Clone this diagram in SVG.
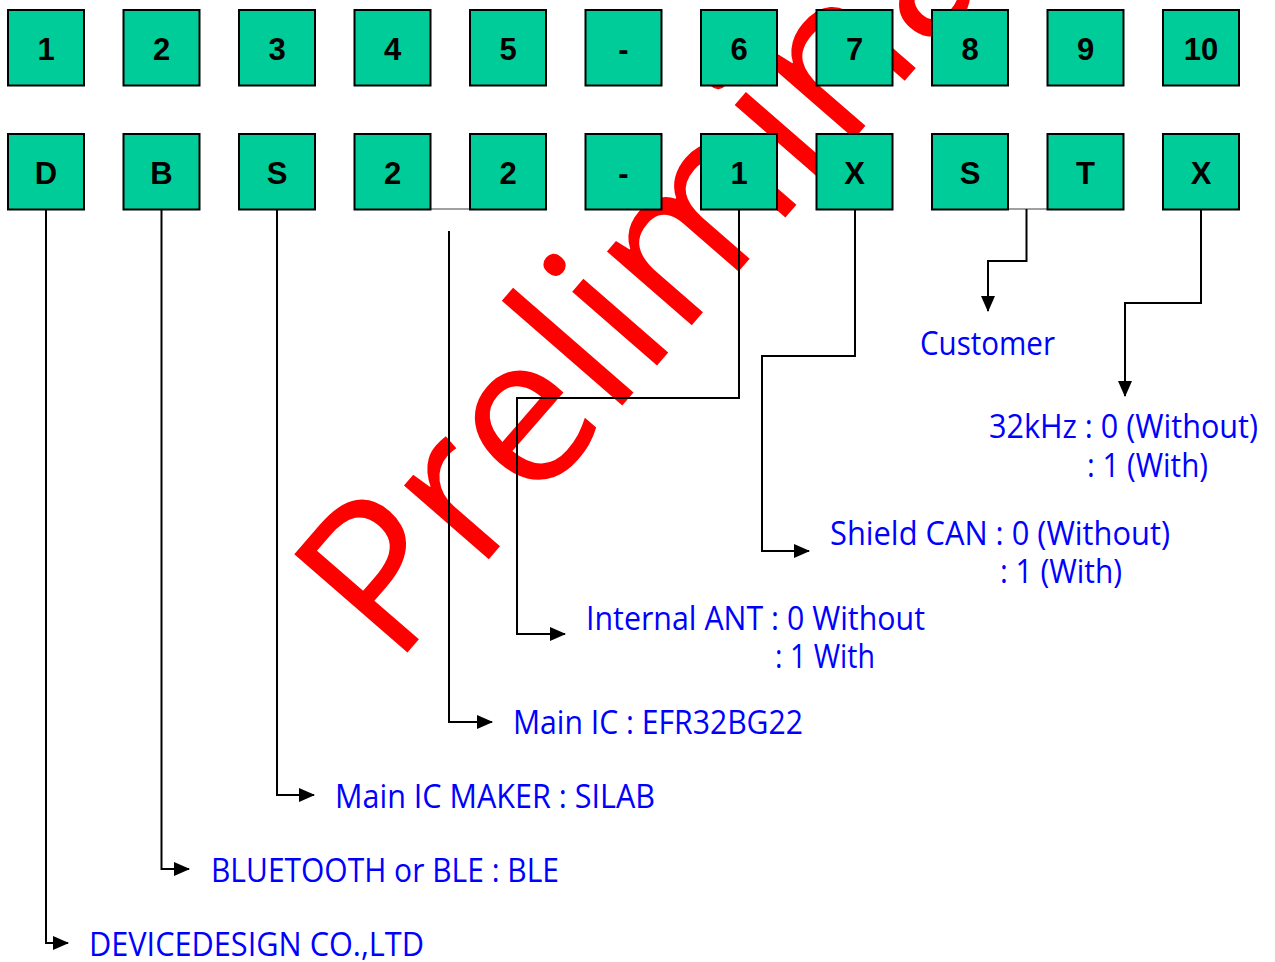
<svg xmlns="http://www.w3.org/2000/svg" width="1275" height="962" viewBox="0 0 1275 962">
<style>
.box{fill:#00CC99;stroke:#000;stroke-width:2}
.bt{font-family:"Liberation Sans",Arial,sans-serif;font-weight:bold;font-size:31px;fill:#000;text-anchor:middle}
.ln{fill:none;stroke:#000;stroke-width:2}
.gl{fill:none;stroke:#808080;stroke-width:1.5}
.lb{font-family:"Open Sans","Noto Sans",sans-serif;font-size:32px;fill:#0000FF}
.wm{font-family:"Open Sans","Noto Sans",sans-serif;font-size:210px;fill:#FF0000}
</style>
<defs>
<marker id="ah" markerWidth="16" markerHeight="14" refX="15" refY="7" orient="auto" markerUnits="userSpaceOnUse">
<path d="M0,0 L16,7 L0,14 Z" fill="#000"/>
</marker>
</defs>
<rect width="1275" height="962" fill="#fff"/>
<text class="wm" x="394" y="668" transform="rotate(-49 394 668)">Preliminary</text>
<g id="connectors">
<line class="gl" x1="430" y1="209" x2="470" y2="209"/>
<line class="gl" x1="1008" y1="209" x2="1048" y2="209"/>
<polyline class="ln" points="46,210 46,943 68,943" marker-end="url(#ah)"/>
<polyline class="ln" points="161.5,210 161.5,869 189,869" marker-end="url(#ah)"/>
<polyline class="ln" points="277,210 277,795 314,795" marker-end="url(#ah)"/>
<polyline class="ln" points="449,231 449,722 492,722" marker-end="url(#ah)"/>
<polyline class="ln" points="739,210 739,398 517,398 517,634 565,634" marker-end="url(#ah)"/>
<polyline class="ln" points="855,210 855,356 762,356 762,551 809,551" marker-end="url(#ah)"/>
<polyline class="ln" points="1026.5,209 1026.5,261 988,261 988,311" marker-end="url(#ah)"/>
<polyline class="ln" points="1201,210 1201,303 1125,303 1125,396" marker-end="url(#ah)"/>
</g>
<g id="n1"><rect class="box" x="8" y="10" width="76" height="75.5"/><text class="bt" x="46" y="60">1</text></g>
<g id="n2"><rect class="box" x="123.5" y="10" width="76" height="75.5"/><text class="bt" x="161.5" y="60">2</text></g>
<g id="n3"><rect class="box" x="239" y="10" width="76" height="75.5"/><text class="bt" x="277" y="60">3</text></g>
<g id="n4"><rect class="box" x="354.5" y="10" width="76" height="75.5"/><text class="bt" x="392.5" y="60">4</text></g>
<g id="n5"><rect class="box" x="470" y="10" width="76" height="75.5"/><text class="bt" x="508" y="60">5</text></g>
<g id="ndash1"><rect class="box" x="585.5" y="10" width="76" height="75.5"/><text class="bt" x="623.5" y="60">-</text></g>
<g id="n6"><rect class="box" x="701" y="10" width="76" height="75.5"/><text class="bt" x="739" y="60">6</text></g>
<g id="n7"><rect class="box" x="816.5" y="10" width="76" height="75.5"/><text class="bt" x="854.5" y="60">7</text></g>
<g id="n8"><rect class="box" x="932" y="10" width="76" height="75.5"/><text class="bt" x="970" y="60">8</text></g>
<g id="n9"><rect class="box" x="1047.5" y="10" width="76" height="75.5"/><text class="bt" x="1085.5" y="60">9</text></g>
<g id="n10"><rect class="box" x="1163" y="10" width="76" height="75.5"/><text class="bt" x="1201" y="60">10</text></g>
<g id="cD"><rect class="box" x="8" y="134" width="76" height="75.5"/><text class="bt" x="46" y="184">D</text></g>
<g id="cB"><rect class="box" x="123.5" y="134" width="76" height="75.5"/><text class="bt" x="161.5" y="184">B</text></g>
<g id="cS"><rect class="box" x="239" y="134" width="76" height="75.5"/><text class="bt" x="277" y="184">S</text></g>
<g id="c2a"><rect class="box" x="354.5" y="134" width="76" height="75.5"/><text class="bt" x="392.5" y="184">2</text></g>
<g id="c2b"><rect class="box" x="470" y="134" width="76" height="75.5"/><text class="bt" x="508" y="184">2</text></g>
<g id="cdash"><rect class="box" x="585.5" y="134" width="76" height="75.5"/><text class="bt" x="623.5" y="184">-</text></g>
<g id="c1"><rect class="box" x="701" y="134" width="76" height="75.5"/><text class="bt" x="739" y="184">1</text></g>
<g id="cX1"><rect class="box" x="816.5" y="134" width="76" height="75.5"/><text class="bt" x="854.5" y="184">X</text></g>
<g id="cS2"><rect class="box" x="932" y="134" width="76" height="75.5"/><text class="bt" x="970" y="184">S</text></g>
<g id="cT"><rect class="box" x="1047.5" y="134" width="76" height="75.5"/><text class="bt" x="1085.5" y="184">T</text></g>
<g id="cX2"><rect class="box" x="1163" y="134" width="76" height="75.5"/><text class="bt" x="1201" y="184">X</text></g>
<g id="labels">
<text class="lb" x="920" y="355" textLength="135" lengthAdjust="spacingAndGlyphs">Customer</text>
<text class="lb" x="989" y="438" textLength="269" lengthAdjust="spacingAndGlyphs">32kHz : 0 (Without)</text>
<text class="lb" x="1087" y="477" textLength="121" lengthAdjust="spacingAndGlyphs">: 1 (With)</text>
<text class="lb" x="830" y="545" textLength="340" lengthAdjust="spacingAndGlyphs">Shield CAN : 0 (Without)</text>
<text class="lb" x="1000" y="583" textLength="122" lengthAdjust="spacingAndGlyphs">: 1 (With)</text>
<text class="lb" x="586" y="630" textLength="339" lengthAdjust="spacingAndGlyphs">Internal ANT : 0 Without</text>
<text class="lb" x="775" y="668" textLength="100" lengthAdjust="spacingAndGlyphs">: 1 With</text>
<text class="lb" x="513" y="734" textLength="290" lengthAdjust="spacingAndGlyphs">Main IC : EFR32BG22</text>
<text class="lb" x="335" y="808" textLength="320" lengthAdjust="spacingAndGlyphs">Main IC MAKER : SILAB</text>
<text class="lb" x="211" y="882" textLength="348" lengthAdjust="spacingAndGlyphs">BLUETOOTH or BLE : BLE</text>
<text class="lb" x="89" y="956" textLength="335" lengthAdjust="spacingAndGlyphs">DEVICEDESIGN CO.,LTD</text>
</g>
</svg>
